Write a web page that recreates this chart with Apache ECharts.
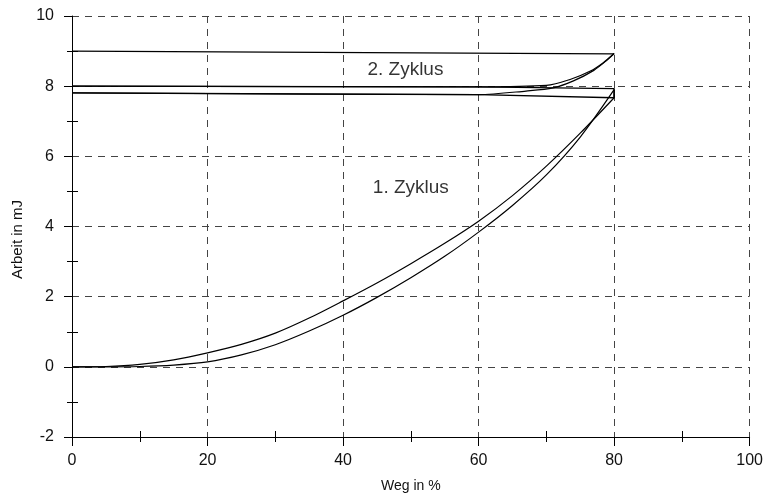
<!DOCTYPE html>
<html>
<head>
<meta charset="utf-8">
<script src="https://cdn.jsdelivr.net/npm/echarts@6/dist/echarts.min.js"></script>
<style>
  html, body { margin: 0; padding: 0; background: #fff; }
  #chart { width: 766px; height: 502px; }
</style>
</head>
<body>
<div id="chart"></div>
<script>
// 1. Zyklus, Belastung (zwei Messungen)
const wegLoad = [0, 5, 10, 15, 20, 25, 30, 35, 40, 45, 50, 55, 60, 65, 70, 75, 80]
const arbeitLoadA = [0, 0.01, 0.07, 0.2, 0.4, 0.64, 0.96, 1.39, 1.88, 2.39, 2.94, 3.52, 4.15, 4.88, 5.72, 6.66, 7.67]
const arbeitLoadB = [0, 0, 0.01, 0.05, 0.14, 0.34, 0.63, 1.02, 1.47, 1.98, 2.54, 3.15, 3.84, 4.6, 5.47, 6.55, 7.9]

// Entlastung nach 1. Zyklus
const wegBackA = [80, 80, 60, 0]
const arbeitBackA = [7.67, 7.93, 7.98, 8.0]
const wegBackB = [80, 80, 60, 0]
const arbeitBackB = [7.9, 7.67, 7.76, 7.81]

// 2. Zyklus, Belastung
const weg2A = [0, 60, 70, 73.5, 76.5, 78.4, 80]
const arbeit2A = [8.0, 7.98, 8.02, 8.19, 8.43, 8.67, 8.93]
const weg2B = [0, 60, 67, 71, 74, 77, 79, 80]
const arbeit2B = [7.81, 7.76, 7.86, 7.95, 8.15, 8.45, 8.75, 8.93]

// Entlastung nach 2. Zyklus
const wegTop = [80, 0]
const arbeitTop = [8.92, 9.0]

const labels = ['1. Zyklus', '2. Zyklus']
const labelWeg = [50.0, 49.2]
const labelArbeit = [5.1, 8.48]

const pairs = (xs, ys) => xs.map((x, i) => [x, ys[i]])

const chart = echarts.init(document.getElementById('chart'))

const baseAxis = {
  axisLine: { show: true, onZero: false, lineStyle: { color: '#000', width: 1 } },
  axisLabel: { color: '#111', fontSize: 16, fontFamily: 'Liberation Sans' },
  splitLine: { show: true, lineStyle: { color: '#444', type: [7, 6], width: 1 } },
  minorTick: { show: true, splitNumber: 2, length: 5, lineStyle: { color: '#000' } },
  nameLocation: 'middle'
}

// zweite Achse nur für die nach innen zeigenden Nebenstriche
const innerAxis = {
  axisLine: { show: false, onZero: false },
  axisLabel: { show: false },
  splitLine: { show: false },
  axisTick: { show: false, inside: true },
  minorTick: { show: true, splitNumber: 2, length: 6, lineStyle: { color: '#000' } }
}

const line = (data, smooth) => ({
  type: 'line',
  data: data,
  smooth: smooth ? 0.3 : false,
  symbol: 'none',
  lineStyle: { color: '#000', width: smooth ? 1.2 : 1.4 },
  z: 3
})

const option = {
  animation: false,
  grid: { left: 72, right: 15, top: 16, bottom: 65 },
  xAxis: [
    Object.assign({}, baseAxis, {
      type: 'value', min: 0, max: 100, interval: 20,
      name: 'Weg in %', nameGap: 42,
      nameTextStyle: { color: '#111', fontSize: 14, fontFamily: 'Liberation Sans' },
      axisTick: { show: true, length: 9, lineStyle: { color: '#000' } },
      axisLabel: Object.assign({}, baseAxis.axisLabel, { margin: 16 })
    }),
    Object.assign({}, innerAxis, { type: 'value', min: 0, max: 100, interval: 20, position: 'bottom' })
  ],
  yAxis: [
    Object.assign({}, baseAxis, {
      type: 'value', min: -2, max: 10, interval: 2,
      name: 'Arbeit in mJ', nameGap: 46,
      nameTextStyle: { color: '#111', fontSize: 15, fontFamily: 'Liberation Sans', padding: [0, 26, 0, 0] },
      axisTick: { show: true, length: 8, lineStyle: { color: '#000' } },
      axisLabel: Object.assign({}, baseAxis.axisLabel, { margin: 18 })
    }),
    Object.assign({}, innerAxis, { type: 'value', min: -2, max: 10, interval: 2, position: 'left' })
  ],
  series: [
    line(pairs(wegLoad, arbeitLoadA), true),
    line(pairs(wegLoad, arbeitLoadB), true),
    line(pairs(wegBackA, arbeitBackA), false),
    line(pairs(wegBackB, arbeitBackB), false),
    line(pairs(weg2A, arbeit2A), true),
    line(pairs(weg2B, arbeit2B), true),
    line(pairs(wegTop, arbeitTop), false),
    {
      type: 'scatter',
      symbolSize: 0,
      data: labels.map((t, i) => ({ name: t, value: [labelWeg[i], labelArbeit[i]] })),
      label: {
        show: true, position: 'inside', formatter: '{b}',
        color: '#000', fontSize: 19, fontFamily: 'Liberation Sans'
      },
      z: 4
    }
  ]
}

chart.setOption(option)
</script>
</body>
</html>
